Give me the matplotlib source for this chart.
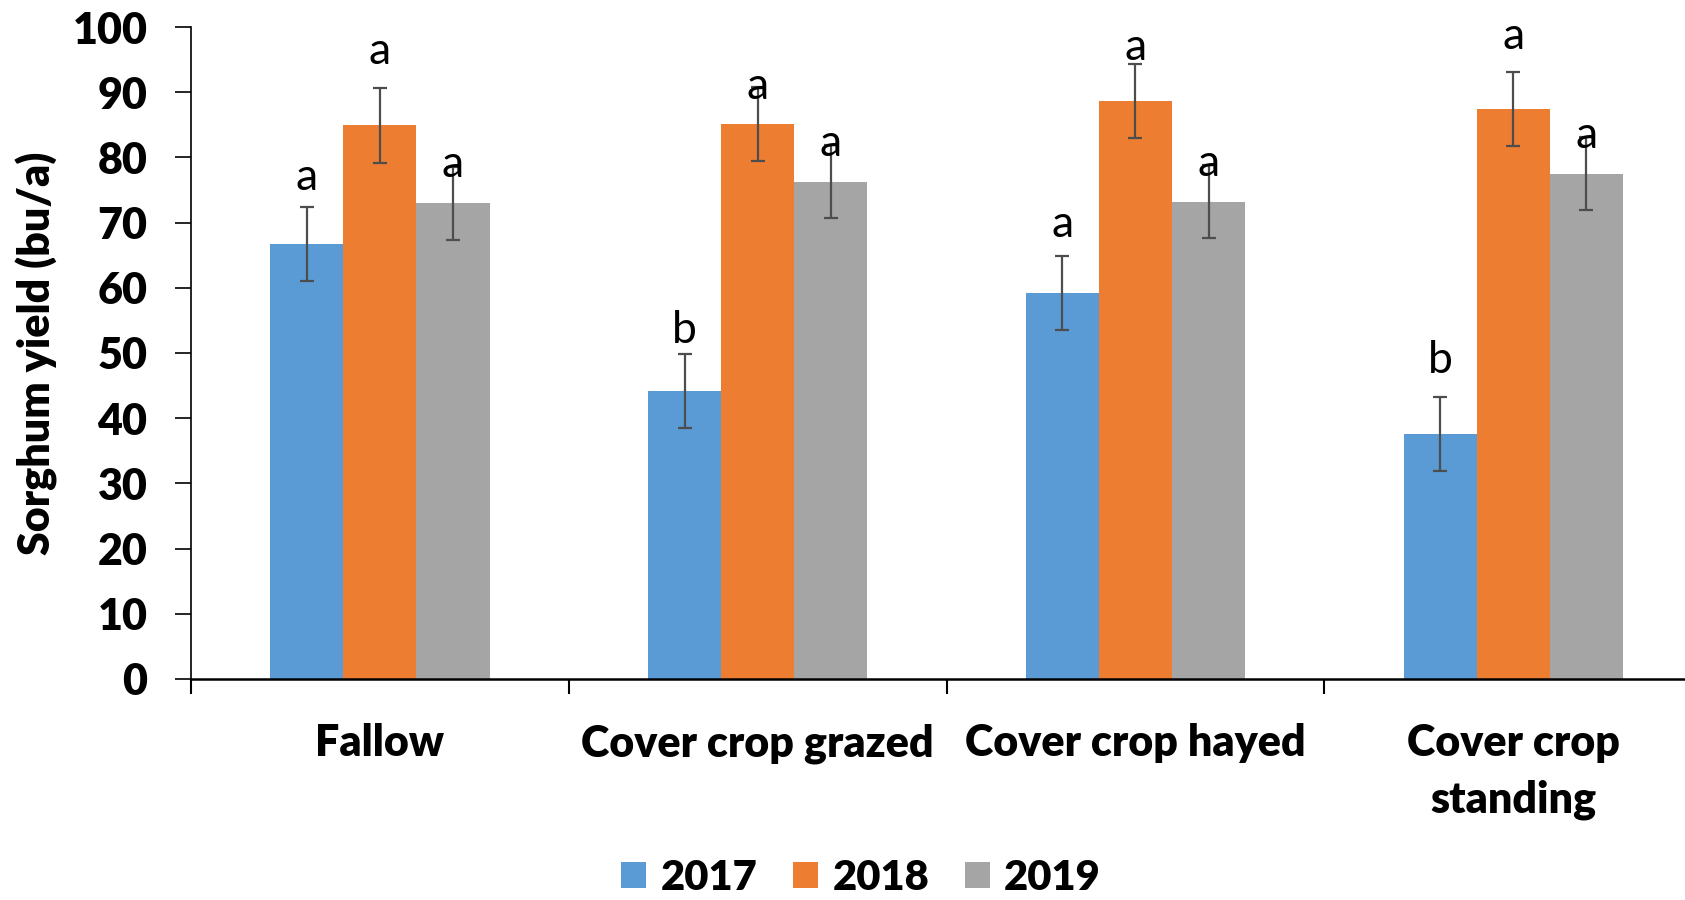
import matplotlib.pyplot as plt
import numpy as np

plt.rcParams["font.family"] = ["Lato", "DejaVu Sans"]

treatments = ["Fallow", "Cover crop grazed", "Cover crop hayed", "Cover crop\nstanding"]
years = ["2017", "2018", "2019"]

yield_2017 = [66.7, 44.2, 59.2, 37.6]
yield_2018 = [84.9, 85.1, 88.7, 87.4]
yield_2019 = [73.0, 76.3, 73.2, 77.5]
err_2017 = [5.7, 5.7, 5.7, 5.7]
err_2018 = [5.7, 5.7, 5.7, 5.7]
err_2019 = [5.6, 5.6, 5.6, 5.6]

letters_2017 = ["a", "b", "a", "b"]
letters_2018 = ["a", "a", "a", "a"]
letters_2019 = ["a", "a", "a", "a"]
# heights where the letters sit
letter_y_2017 = [76.9, 53.5, 69.7, 48.8]
letter_y_2018 = [96.2, 90.9, 96.9, 98.5]
letter_y_2019 = [78.9, 82.2, 79.0, 83.4]

colors = ["#5B9BD5", "#ED7D31", "#A5A5A5"]
BOLD = "heavy"

fig = plt.figure(figsize=(16.85, 9), dpi=100)
ax = fig.add_axes([0.1134, 0.2456, 0.8967, 0.7244])

x = np.arange(len(treatments))
w = 0.1935
series = [
    (yield_2017, err_2017, letters_2017, letter_y_2017),
    (yield_2018, err_2018, letters_2018, letter_y_2018),
    (yield_2019, err_2019, letters_2019, letter_y_2019),
]
for k, (vals, errs, lets, ly) in enumerate(series):
    xs = x + (k - 1) * w
    ax.bar(xs, vals, width=w, color=colors[k], label=years[k], zorder=2)
    ax.errorbar(xs, vals, yerr=errs, fmt="none", ecolor="#4d4d4d",
                elinewidth=1.6, capsize=5, capthick=1.6, zorder=3)
    for xi, yi, lab in zip(xs, ly, lets):
        ax.text(xi, yi, lab, ha="center", va="center", fontsize=32, zorder=4)

ax.set_xlim(-0.5, 3.5)
ax.set_ylim(0, 100)
ax.set_yticks(np.arange(0, 101, 10))
ax.tick_params(axis="y", labelsize=31, length=11.5, width=1.2, pad=20)
for t in ax.get_yticklabels():
    t.set_fontweight(BOLD)

ax.set_xticks(np.arange(-0.5, 3.0, 1.0))
ax.set_xticklabels([])
ax.tick_params(axis="x", which="major", length=11, width=1.5)
ax.set_xticks(x, minor=True)
ax.set_xticklabels(treatments, minor=True, fontsize=31, fontweight=BOLD,
                   linespacing=1.5)
ax.tick_params(axis="x", which="minor", length=0, pad=32)

for s in ["top", "right"]:
    ax.spines[s].set_visible(False)
ax.spines["left"].set_linewidth(1.2)
ax.spines["bottom"].set_linewidth(1.8)

ax.set_ylabel("Sorghum yield (bu/a)", fontsize=31, fontweight=BOLD)
ax.yaxis.set_label_coords(-0.088, 0.5)

leg = fig.legend(loc="center", bbox_to_anchor=(0.511, 0.025), ncol=3,
                 frameon=False, handlelength=0.6, handleheight=0.6,
                 handletextpad=0.35, columnspacing=0.85,
                 prop={"size": 30, "weight": BOLD})

plt.savefig("out.png", dpi=100)
plt.close()
